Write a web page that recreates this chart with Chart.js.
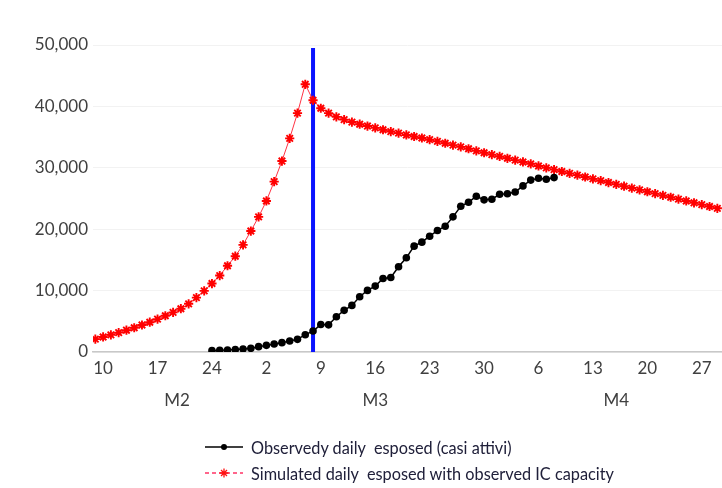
<!DOCTYPE html>
<html>
<head>
<meta charset="utf-8">
<script src="https://cdn.jsdelivr.net/npm/chart.js@4/dist/chart.umd.min.js"></script>
<style>
  body { margin: 0; background: #fff; }
  #wrap { position: relative; width: 722px; height: 488px; }
  #legend { position: absolute; left: 205px; top: 434px; font: 16.3px Lato, "Open Sans", sans-serif; color: #20203a; }
  .item { display: flex; align-items: center; height: 26px; white-space: pre; }
  .item svg { margin-right: 8px; }
</style>
</head>
<body>
<div id="wrap">
  <canvas id="chart" width="722" height="488"></canvas>
  <div id="legend"></div>
</div>
<script>
// days are counted from 10 Feb (day 0)
const tickDays = [0, 7, 14, 21, 28, 35, 42, 49, 56, 63, 70, 77];
const tickLabels = ["10", "17", "24", "2", "9", "16", "23", "30", "6", "13", "20", "27"];
const monthDays = [9.5, 35, 66];
const monthLabels = ["M2", "M3", "M4"];

// observed active cases, 24 Feb - 8 Apr
const observedStart = 14;
const observed = [
  220, 270, 330, 400, 500, 600, 870, 1080, 1300, 1520, 1790, 2060, 2820, 3410,
  4470, 4420, 5750, 6780, 7590, 9000, 10030, 10730, 11980, 12140, 13880, 15340,
  17240, 17890, 18860, 19780, 20490, 22010, 23740, 24390, 25370, 24780, 24880,
  25690, 25780, 26050, 27050, 28000, 28290, 28130, 28400
];

// simulated exposed, 9 Feb - 29 Apr
const simulatedStart = -1;
const simulated = [
  2100, 2450, 2800, 3150, 3550, 3950, 4400, 4850, 5350, 5900, 6450, 7050, 7850,
  8850, 9950, 11150, 12450, 14050, 15600, 17450, 19700, 22000, 24600, 27750,
  31100, 34800, 38900, 43600,
  41000, 39700, 38900, 38300, 37850, 37450, 37100, 36800, 36500, 36200, 35900,
  35650, 35350, 35100, 34850, 34580, 34300, 34000, 33700, 33400, 33100, 32750,
  32450, 32150, 31850, 31550, 31250, 30950, 30650, 30300, 30000, 29700, 29400,
  29100, 28800, 28500, 28200, 27900, 27600, 27300, 27000, 26700, 26400, 26100,
  25800, 25500, 25200, 24900, 24600, 24300, 24000, 23700, 23400
];

// IC capacity marker (8 Mar)
const capacityDay = 27;
const capacityRange = [0, 49500];

const legendItems = [
  { text: "Observedy daily  esposed (casi attivi)", kind: "observed" },
  { text: "Simulated daily  esposed with observed IC capacity", kind: "simulated" }
];

const toPoints = (start, vals) => vals.map((v, i) => ({ x: start + i, y: v }));

const tickFont = { family: "Lato, 'Open Sans', sans-serif", size: 17 };

// keep the plot flush with the canvas edge
const fitX = (h) => (s) => { s.height = h; s.paddingLeft = 0; s.paddingRight = 0; };

new Chart(document.getElementById("chart"), {
  type: "line",
  data: {
    datasets: [
      {
        label: "Observed",
        data: toPoints(observedStart, observed),
        borderColor: "#000",
        borderWidth: 1.5,
        pointStyle: "circle",
        pointRadius: 3.8,
        pointBackgroundColor: "#000",
        pointBorderWidth: 0,
        order: 1
      },
      {
        label: "Simulated",
        data: toPoints(simulatedStart, simulated),
        borderColor: "#ff3344",
        borderWidth: 1,
        pointStyle: "star",
        pointRadius: 4.6,
        pointBorderColor: "#ff0000",
        pointBorderWidth: 1.9,
        order: 2
      },
      {
        label: "capacity",
        data: capacityRange.map((y) => ({ x: capacityDay, y })),
        borderColor: "#0a14ff",
        borderWidth: 4,
        pointRadius: 0,
        order: 3
      }
    ]
  },
  options: {
    responsive: false,
    animation: false,
    layout: { autoPadding: false, padding: { top: 45, right: 0, left: 0, bottom: 64 } },
    plugins: { legend: { display: false }, tooltip: { enabled: false } },
    scales: {
      x: {
        type: "linear",
        min: -1.3,
        max: 79.6,
        afterBuildTicks: (s) => { s.ticks = tickDays.map((v) => ({ value: v })); },
        afterFit: fitX(32),
        ticks: {
          autoSkip: false,
          maxRotation: 0,
          padding: 6,
          color: "#404040",
          font: tickFont,
          callback: (v, i) => tickLabels[i]
        },
        grid: { display: false, drawTicks: false },
        border: { color: "#c8c8c8", width: 1.5 }
      },
      months: {
        type: "linear",
        position: "bottom",
        min: -1.3,
        max: 79.6,
        afterBuildTicks: (s) => { s.ticks = monthDays.map((v) => ({ value: v })); },
        afterFit: fitX(40),
        ticks: {
          autoSkip: false,
          maxRotation: 0,
          padding: 6,
          color: "#404040",
          font: tickFont,
          callback: (v, i) => monthLabels[i]
        },
        grid: { display: false, drawTicks: false },
        border: { display: false }
      },
      y: {
        min: 0,
        max: 50000,
        afterFit: (s) => { s.width = 93; },
        ticks: {
          stepSize: 10000,
          padding: 5,
          color: "#404040",
          font: tickFont,
          callback: (v) => v.toLocaleString("en-US")
        },
        grid: { color: "#f2f2f2", drawTicks: false },
        border: { display: false }
      }
    }
  }
});

// legend: line with marker, then text
function swatch(kind) {
  if (kind === "observed") {
    return `<svg width="38" height="10"><line x1="0" y1="5" x2="38" y2="5" stroke="#000" stroke-width="1.3"/>
      <circle cx="19" cy="5" r="3" fill="#000"/></svg>`;
  }
  return `<svg width="38" height="12"><line x1="0" y1="6" x2="38" y2="6" stroke="#ff3366" stroke-width="1.3" stroke-dasharray="4 3"/>
    <path d="M19 1.5V10.5M14.5 6H23.5M16 3L22 9M22 3L16 9" stroke="#ff1010" stroke-width="1.3"/></svg>`;
}

const legend = document.getElementById("legend");
legendItems.forEach((it) => {
  const div = document.createElement("div");
  div.className = "item";
  div.innerHTML = swatch(it.kind) + `<span>${it.text}</span>`;
  legend.appendChild(div);
});
</script>
</body>
</html>
